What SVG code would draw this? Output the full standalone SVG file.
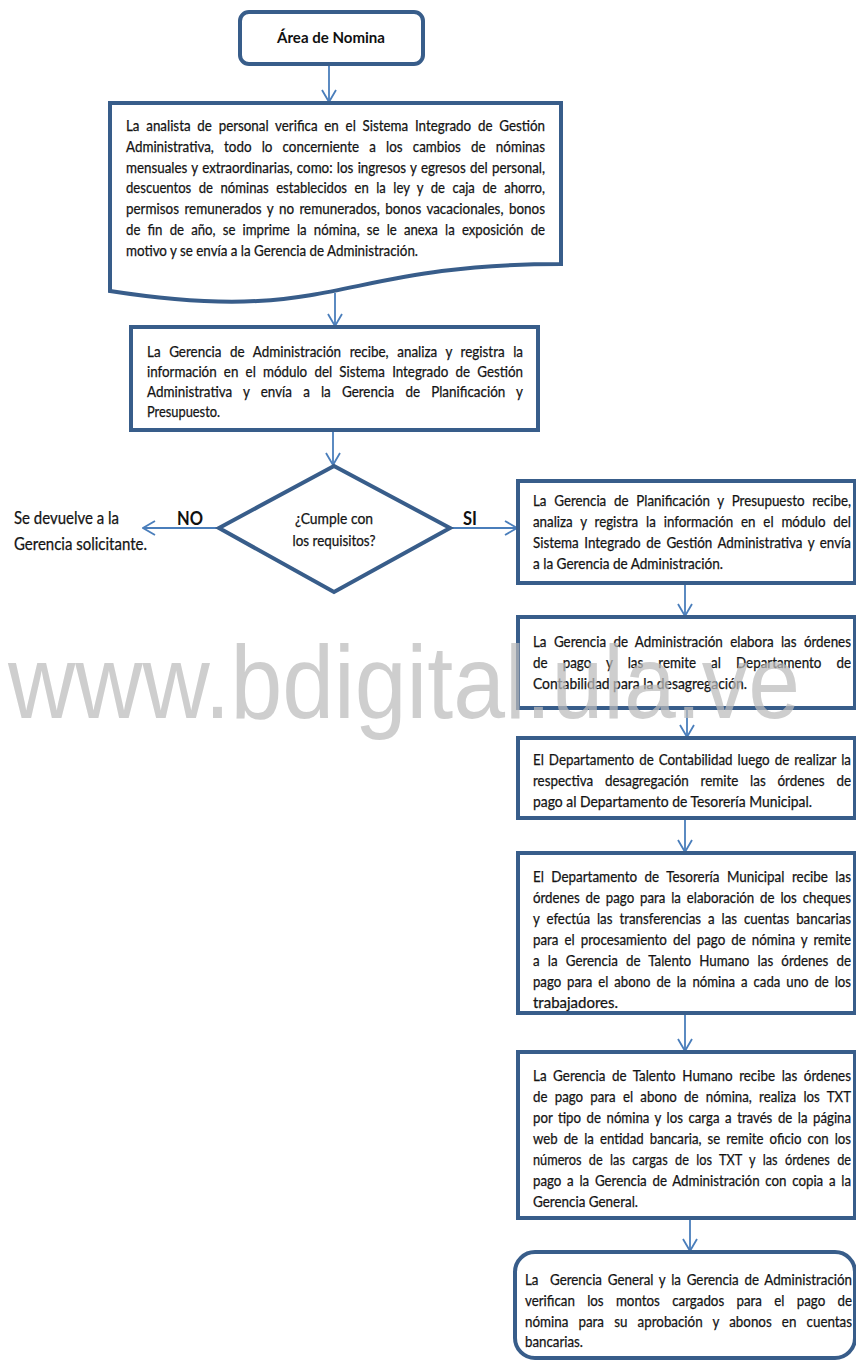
<svg xmlns="http://www.w3.org/2000/svg" width="856" height="1360" viewBox="0 0 856 1360">
  <style>
    .box { fill: #ffffff; stroke: #385d8a; stroke-width: 4; }
    .conn { fill: none; stroke: #4a7ebb; stroke-width: 1.8; }
    .t { font-family: Lato, "Open Sans", sans-serif; font-size: 15px; fill: #141414; stroke: #141414; stroke-width: 0.25; }
    .lbl { font-family: Lato, "Open Sans", sans-serif; font-size: 16.5px; fill: #141414; stroke: #141414; stroke-width: 0.25; }
    .b { font-family: Lato, "Open Sans", sans-serif; font-weight: bold; fill: #111111; }
    .wm { font-family: "Liberation Sans", Arial, sans-serif; font-size: 104px; fill: #bcbcbc; opacity: 0.72; }
  </style>
  <defs>
    <marker id="arrow" viewBox="0 0 14 16" refX="13" refY="8" markerWidth="14" markerHeight="16" markerUnits="userSpaceOnUse" orient="auto">
      <path d="M1,1 L13,8 L1,15" fill="none" stroke="#4a7ebb" stroke-width="1.8"/>
    </marker>
  </defs>

  <!-- connectors -->
  <g id="connectors">
    <line class="conn" x1="329" y1="64" x2="329" y2="102" marker-end="url(#arrow)"/>
    <line class="conn" x1="335" y1="293" x2="335" y2="326" marker-end="url(#arrow)"/>
    <line class="conn" x1="333" y1="431" x2="333" y2="465" marker-end="url(#arrow)"/>
    <line class="conn" x1="219" y1="528" x2="143" y2="528" marker-end="url(#arrow)"/>
    <line class="conn" x1="450" y1="528" x2="517" y2="528" marker-end="url(#arrow)"/>
    <line class="conn" x1="685" y1="584" x2="685" y2="616" marker-end="url(#arrow)"/>
    <line class="conn" x1="687" y1="709" x2="687" y2="737" marker-end="url(#arrow)"/>
    <line class="conn" x1="685" y1="819" x2="685" y2="852" marker-end="url(#arrow)"/>
    <line class="conn" x1="685" y1="1014" x2="685" y2="1051" marker-end="url(#arrow)"/>
    <line class="conn" x1="690" y1="1219" x2="690" y2="1251" marker-end="url(#arrow)"/>
  </g>

  <!-- start terminal -->
  <g id="area-nomina">
    <rect class="box" x="240" y="12" width="183" height="52" rx="9"/>
    <text class="b" x="331" y="43" font-size="16" text-anchor="middle" textLength="108" lengthAdjust="spacingAndGlyphs">Área de Nomina</text>
  </g>

  <!-- document step (justified paragraph: word-spacing widens the gaps, textLength fixes the edge) -->
  <g id="analista">
    <path class="box" d="M110,103 H561 V264 C335,264 335,326 110,291 Z"/>
    <text class="t" x="126" y="131" word-spacing="3.8" textLength="419" lengthAdjust="spacingAndGlyphs">La analista de personal verifica en el Sistema Integrado de Gestión</text>
    <text class="t" x="126" y="152" word-spacing="7.6" textLength="419" lengthAdjust="spacingAndGlyphs">Administrativa, todo lo concerniente a los cambios de nóminas</text>
    <text class="t" x="126" y="173" word-spacing="1" textLength="419" lengthAdjust="spacingAndGlyphs">mensuales y extraordinarias, como: los ingresos y egresos del personal,</text>
    <text class="t" x="126" y="193" word-spacing="4.8" textLength="419" lengthAdjust="spacingAndGlyphs">descuentos de nóminas establecidos en la ley y de caja de ahorro,</text>
    <text class="t" x="126" y="214" word-spacing="2.3" textLength="419" lengthAdjust="spacingAndGlyphs">permisos remunerados y no remunerados, bonos vacacionales, bonos</text>
    <text class="t" x="126" y="235" word-spacing="4.3" textLength="419" lengthAdjust="spacingAndGlyphs">de fin de año, se imprime la nómina, se le anexa la exposición de</text>
    <text class="t" x="126" y="256" textLength="292" lengthAdjust="spacingAndGlyphs">motivo y se envía a la Gerencia de Administración.</text>
  </g>

  <g id="gerencia-admin-recibe">
    <rect class="box" x="131" y="327" width="407" height="103"/>
    <text class="t" x="147" y="357" word-spacing="5.7" textLength="376" lengthAdjust="spacingAndGlyphs">La Gerencia de Administración recibe, analiza y registra la</text>
    <text class="t" x="147" y="377" word-spacing="4.3" textLength="376" lengthAdjust="spacingAndGlyphs">información en el módulo del Sistema Integrado de Gestión</text>
    <text class="t" x="147" y="397" word-spacing="8.6" textLength="376" lengthAdjust="spacingAndGlyphs">Administrativa y envía a la Gerencia de Planificación y</text>
    <text class="t" x="147" y="417" textLength="73" lengthAdjust="spacingAndGlyphs">Presupuesto.</text>
  </g>

  <!-- decision -->
  <g id="decision">
    <path class="box" d="M334,466 L450,528 L334,592 L219,528 Z"/>
    <text class="t" x="334" y="524" text-anchor="middle" textLength="78" lengthAdjust="spacingAndGlyphs">¿Cumple con</text>
    <text class="t" x="334" y="546" text-anchor="middle" textLength="83" lengthAdjust="spacingAndGlyphs">los requisitos?</text>
    <text class="b" x="177" y="525" font-size="19" textLength="26" lengthAdjust="spacingAndGlyphs">NO</text>
    <text class="b" x="463" y="525" font-size="19" textLength="14" lengthAdjust="spacingAndGlyphs">SI</text>
  </g>

  <g id="devuelve">
    <text class="lbl" x="14" y="524" textLength="105" lengthAdjust="spacingAndGlyphs">Se devuelve a la</text>
    <text class="lbl" x="14" y="550" textLength="133" lengthAdjust="spacingAndGlyphs">Gerencia solicitante.</text>
  </g>

  <g id="planificacion">
    <rect class="box" x="518" y="481" width="337" height="102"/>
    <text class="t" x="533" y="506" word-spacing="4.9" textLength="318" lengthAdjust="spacingAndGlyphs">La Gerencia de Planificación y Presupuesto recibe,</text>
    <text class="t" x="533" y="527" word-spacing="5" textLength="318" lengthAdjust="spacingAndGlyphs">analiza y registra la información en el módulo del</text>
    <text class="t" x="533" y="548" word-spacing="2.4" textLength="318" lengthAdjust="spacingAndGlyphs">Sistema Integrado de Gestión Administrativa y envía</text>
    <text class="t" x="533" y="569" textLength="190" lengthAdjust="spacingAndGlyphs">a la Gerencia de Administración.</text>
  </g>

  <g id="ordenes-pago">
    <rect class="box" x="518" y="617" width="337" height="91"/>
    <text class="t" x="533" y="647" word-spacing="4.4" textLength="318" lengthAdjust="spacingAndGlyphs">La Gerencia de Administración elabora las órdenes</text>
    <text class="t" x="533" y="668" word-spacing="13.1" textLength="318" lengthAdjust="spacingAndGlyphs">de pago y las remite al Departamento de</text>
    <text class="t" x="533" y="689" textLength="214" lengthAdjust="spacingAndGlyphs">Contabilidad para la desagregación.</text>
  </g>

  <g id="contabilidad">
    <rect class="box" x="518" y="738" width="337" height="80"/>
    <text class="t" x="533" y="765" word-spacing="1.8" textLength="318" lengthAdjust="spacingAndGlyphs">El Departamento de Contabilidad luego de realizar la</text>
    <text class="t" x="533" y="786" word-spacing="9.4" textLength="318" lengthAdjust="spacingAndGlyphs">respectiva desagregación remite las órdenes de</text>
    <text class="t" x="533" y="807" textLength="279" lengthAdjust="spacingAndGlyphs">pago al Departamento de Tesorería Municipal.</text>
  </g>

  <g id="tesoreria">
    <rect class="box" x="518" y="853" width="337" height="160"/>
    <text class="t" x="533" y="882" word-spacing="4.5" textLength="318" lengthAdjust="spacingAndGlyphs">El Departamento de Tesorería Municipal recibe las</text>
    <text class="t" x="533" y="903" word-spacing="2.8" textLength="318" lengthAdjust="spacingAndGlyphs">órdenes de pago para la elaboración de los cheques</text>
    <text class="t" x="533" y="924" word-spacing="4" textLength="318" lengthAdjust="spacingAndGlyphs">y efectúa las transferencias a las cuentas bancarias</text>
    <text class="t" x="533" y="945" word-spacing="3" textLength="318" lengthAdjust="spacingAndGlyphs">para el procesamiento del pago de nómina y remite</text>
    <text class="t" x="533" y="966" word-spacing="5.3" textLength="318" lengthAdjust="spacingAndGlyphs">a la Gerencia de Talento Humano las órdenes de</text>
    <text class="t" x="533" y="987" word-spacing="3" textLength="318" lengthAdjust="spacingAndGlyphs">pago para el abono de la nómina a cada uno de los</text>
    <text class="t" x="533" y="1008" textLength="85" lengthAdjust="spacingAndGlyphs">trabajadores.</text>
  </g>

  <g id="talento-humano">
    <rect class="box" x="518" y="1052" width="337" height="166"/>
    <text class="t" x="533" y="1081" word-spacing="3.5" textLength="318" lengthAdjust="spacingAndGlyphs">La Gerencia de Talento Humano recibe las órdenes</text>
    <text class="t" x="533" y="1102" word-spacing="4.4" textLength="318" lengthAdjust="spacingAndGlyphs">de pago para el abono de nómina, realiza los TXT</text>
    <text class="t" x="533" y="1123" word-spacing="2.5" textLength="318" lengthAdjust="spacingAndGlyphs">por tipo de nómina y los carga a través de la página</text>
    <text class="t" x="533" y="1144" word-spacing="3.1" textLength="318" lengthAdjust="spacingAndGlyphs">web de la entidad bancaria, se remite oficio con los</text>
    <text class="t" x="533" y="1165" word-spacing="4.9" textLength="318" lengthAdjust="spacingAndGlyphs">números de las cargas de los TXT y las órdenes de</text>
    <text class="t" x="533" y="1186" word-spacing="2.6" textLength="318" lengthAdjust="spacingAndGlyphs">pago a la Gerencia de Administración con copia a la</text>
    <text class="t" x="533" y="1207" textLength="105" lengthAdjust="spacingAndGlyphs">Gerencia General.</text>
  </g>

  <!-- end terminal -->
  <g id="verificacion">
    <rect class="box" x="515" y="1252" width="340" height="106" rx="20"/>
    <text class="t" x="525" y="1285" word-spacing="2.6" textLength="327" lengthAdjust="spacingAndGlyphs" xml:space="preserve">La  Gerencia General y la Gerencia de Administración</text>
    <text class="t" x="525" y="1306" word-spacing="10" textLength="327" lengthAdjust="spacingAndGlyphs">verifican los montos cargados para el pago de</text>
    <text class="t" x="525" y="1327" word-spacing="7.6" textLength="327" lengthAdjust="spacingAndGlyphs">nómina para su aprobación y abonos en cuentas</text>
    <text class="t" x="525" y="1347" textLength="58" lengthAdjust="spacingAndGlyphs">bancarias.</text>
  </g>

  <!-- site watermark laid over the chart -->
  <text class="wm" x="8" y="718" textLength="792" lengthAdjust="spacingAndGlyphs">www.bdigital.ula.ve</text>
</svg>
